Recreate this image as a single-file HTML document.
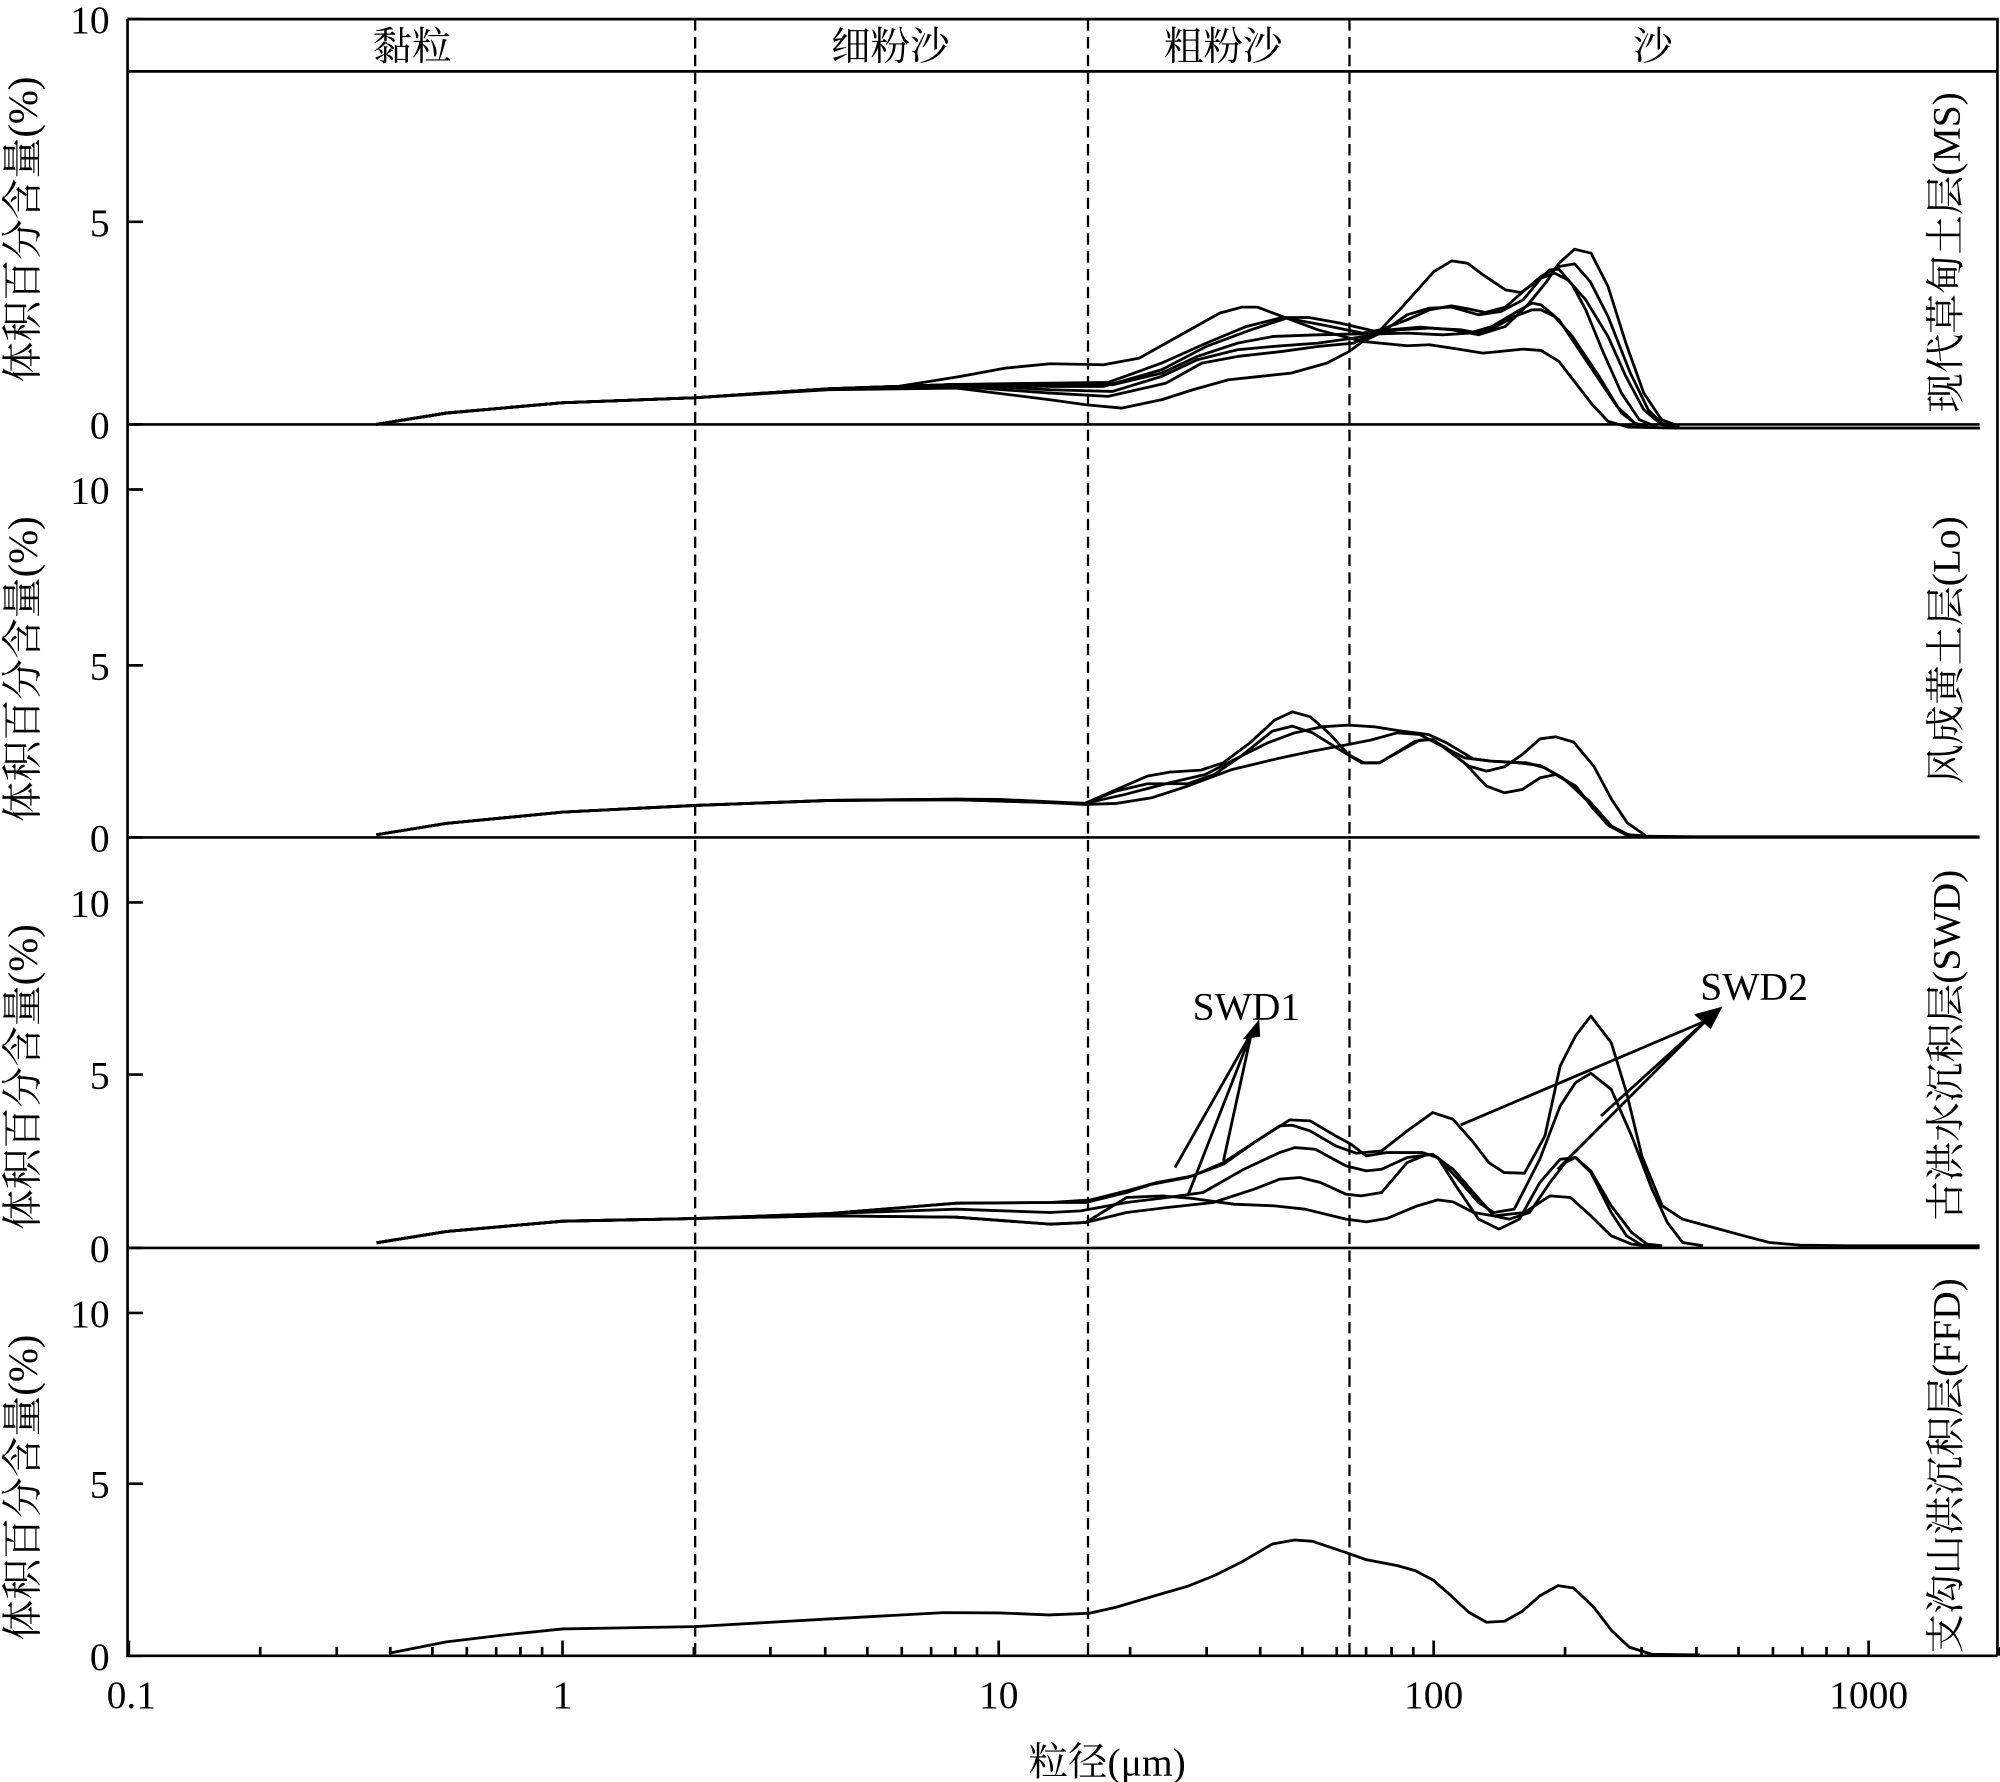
<!DOCTYPE html>
<html><head><meta charset="utf-8"><style>
html,body{margin:0;padding:0;background:#fff}
svg{display:block}
text{font-family:"Liberation Serif","Noto Serif CJK SC","Noto Sans CJK SC",serif;fill:#000}
.c{fill:none;stroke:#000;stroke-width:2.8;stroke-linejoin:round}
.ax{stroke:#000;stroke-width:2.1;fill:none}
.d{stroke:#000;stroke-width:1.8;stroke-dasharray:9 5;fill:none}
.t{font-size:31px}
.yt{font-size:32px}
</style></head><body>
<svg width="2000" height="1782" viewBox="0 0 1568 1398" preserveAspectRatio="none" xmlns="http://www.w3.org/2000/svg">
<rect width="1568" height="1398" fill="#fff"/>
<path class="ax" d="M100,15 H1566 V1299 M100,15 V1299 H1566 M100,56 H1566 M100,333 H1552 M100,657 H1552 M100,979 H1552"/>
<path class="ax" d="M100,15h12M100,174h12M100,333h12M100,384h12M100,522h12M100,657h12M100,708h12M100,843h12M100,979h12M100,1030h12M100,1164h12M100,1299h12"/>
<path class="ax" d="M101,1299v-12M441,1299v-12M783,1299v-12M1124,1299v-12M1465,1299v-12
M204,1299v-7M264,1299v-7M306,1299v-7M339,1299v-7M366,1299v-7M389,1299v-7M408,1299v-7M425,1299v-7
M544,1299v-7M604,1299v-7M647,1299v-7M680,1299v-7M707,1299v-7M730,1299v-7M749,1299v-7M766,1299v-7
M886,1299v-7M946,1299v-7M988,1299v-7M1021,1299v-7M1048,1299v-7M1071,1299v-7M1091,1299v-7M1108,1299v-7
M1227,1299v-7M1287,1299v-7M1330,1299v-7M1363,1299v-7M1390,1299v-7M1413,1299v-7M1432,1299v-7M1449,1299v-7
M1568,1299v-7"/>
<path class="d" d="M545,15V1299M853,15V1299M1058,15V1299"/>
<g class="t" text-anchor="middle">
<text x="323" y="47">黏粒</text><text x="698" y="47">细粉沙</text><text x="959" y="47">粗粉沙</text><text x="1296" y="47">沙</text>
</g>
<g class="t" text-anchor="end">
<text x="86" y="26">10</text><text x="86" y="185">5</text><text x="86" y="344">0</text>
<text x="86" y="395">10</text><text x="86" y="533">5</text><text x="86" y="668">0</text>
<text x="86" y="719">10</text><text x="86" y="854">5</text><text x="86" y="990">0</text>
<text x="86" y="1041">10</text><text x="86" y="1175">5</text><text x="86" y="1310">0</text>
</g>
<g class="t" text-anchor="middle">
<text x="103" y="1340">0.1</text><text x="441" y="1340">1</text><text x="783" y="1340">10</text><text x="1124" y="1340">100</text><text x="1465" y="1340">1000</text>
<text x="868" y="1393">粒径(μm)</text>
</g>
<g class="yt" text-anchor="middle" dominant-baseline="central">
<text transform="translate(18,180) rotate(-90)">体积百分含量(%)</text>
<text transform="translate(18,525) rotate(-90)">体积百分含量(%)</text>
<text transform="translate(18,845) rotate(-90)">体积百分含量(%)</text>
<text transform="translate(18,1167) rotate(-90)">体积百分含量(%)</text>
</g>
<g class="t" text-anchor="middle" dominant-baseline="central">
<text transform="translate(1526,198) rotate(-90)">现代草甸土层(MS)</text>
<text transform="translate(1526,510) rotate(-90)">风成黄土层(Lo)</text>
<text transform="translate(1526,820) rotate(-90)">古洪水沉积层(SWD)</text>
<text transform="translate(1526,1150) rotate(-90)">支沟山洪沉积层(FFD)</text>
</g>

<g transform="translate(823.2,172.5) scale(0.35,0.2613)">
<polyline vector-effect="non-scaling-stroke" class="c" points="-1509,614 -1352,580 -1092,549 -795,534 -495,507 -340,500 -200,470 -100,445 0,432 120,435 200,415 300,340 380,280 430,262 465,262 520,290 600,330 700,365 800,378 850,375 900,385 970,400 1060,388 1100,392 1140,425 1215,555 1250,605 1295,622 1400,625 2083,625"/>
<polyline vector-effect="non-scaling-stroke" class="c" points="-1509,614 -1352,580 -1092,549 -795,534 -495,507 -209,494 0,490 130,488 250,430 350,370 440,320 520,293 580,293 650,310 730,335 800,300 850,270 900,258 940,268 975,278 1020,262 1060,215 1100,170 1140,140 1175,132 1210,185 1250,290 1300,460 1340,570 1370,610 1400,622"/>
<polyline vector-effect="non-scaling-stroke" class="c" points="-1509,614 -1352,580 -1092,549 -795,534 -495,507 -209,494 0,500 120,500 250,450 350,380 450,330 530,295 620,318 700,340 740,330 790,260 830,200 860,155 900,123 935,130 970,165 1020,210 1055,218 1090,185 1120,150 1140,148 1170,195 1200,270 1240,400 1280,520 1320,600 1360,622"/>
<polyline vector-effect="non-scaling-stroke" class="c" points="-1509,614 -1352,580 -1092,549 -795,534 -495,507 -209,494 0,495 140,495 250,460 330,410 420,370 500,350 600,345 700,342 760,330 830,322 900,330 960,345 1020,320 1070,255 1110,190 1140,130 1175,88 1212,100 1250,200 1290,370 1330,520 1370,600 1410,620"/>
<polyline vector-effect="non-scaling-stroke" class="c" points="-1509,614 -1352,580 -1092,549 -795,534 -495,507 -209,494 0,510 140,515 250,470 330,420 420,390 500,380 600,370 680,355 740,342 800,340 880,345 940,340 990,320 1040,280 1080,250 1100,255 1140,300 1180,380 1230,480 1270,560 1310,610 1340,622"/>
<polyline vector-effect="non-scaling-stroke" class="c" points="-1509,614 -1352,580 -1092,549 -795,534 -495,507 -209,500 0,520 130,530 260,490 340,430 420,410 520,395 600,380 680,370 720,345 780,330 850,325 920,330 960,340 1000,320 1040,290 1080,270 1100,270 1130,290 1170,350 1230,470 1280,580 1320,620"/>
<polyline vector-effect="non-scaling-stroke" class="c" points="-1509,614 -1352,580 -1092,549 -795,534 -495,510 -209,505 0,540 80,555 160,565 250,540 320,510 400,480 470,470 540,460 620,430 670,395 700,365 740,340 800,285 850,265 900,262 960,285 1010,275 1060,240 1100,175 1130,160 1160,180 1200,240 1250,350 1290,470 1330,570 1370,615 1410,622"/>
</g>

<g transform="translate(784,533.1) scale(0.35,0.2613)">
<polyline vector-effect="non-scaling-stroke" class="c" points="-1397,466 -1240,432 -980,398 -683,378 -383,363 -97,359 0,360 190,372 270,325 330,290 380,278 450,272 500,250 560,190 615,122 655,97 695,112 740,165 780,225 815,250 850,250 900,210 930,185 965,180 1000,205 1040,250 1090,320 1130,340 1170,330 1210,295 1245,285 1290,320 1330,390 1365,440 1410,470 1568,472 2194,472"/>
<polyline vector-effect="non-scaling-stroke" class="c" points="-1397,466 -1240,432 -980,398 -683,378 -383,363 -97,361 0,365 190,372 260,335 330,313 420,313 480,285 540,230 610,155 655,140 700,160 760,210 810,250 850,250 900,212 940,182 970,180 1010,220 1050,260 1090,275 1130,262 1170,225 1210,178 1245,172 1285,188 1330,260 1370,360 1405,430 1445,468"/>
<polyline vector-effect="non-scaling-stroke" class="c" points="-1397,466 -1240,432 -980,398 -683,378 -383,363 -97,361 0,365 190,372 280,345 380,310 460,285 540,230 600,190 660,160 720,142 780,137 840,142 900,155 960,165 1000,190 1060,238 1100,245 1160,250 1210,258 1260,295 1320,365 1370,440 1410,468"/>
<polyline vector-effect="non-scaling-stroke" class="c" points="-1397,466 -1240,432 -980,398 -683,378 -383,363 -97,359 0,362 190,375 260,372 340,355 420,320 520,270 620,238 700,215 780,195 830,182 890,160 940,165 990,200 1040,235 1100,245 1180,250 1220,265 1270,305 1320,370 1360,435 1400,465 1445,470"/>
</g>

<g transform="translate(823.2,744.8) scale(0.4,0.2613)">
<polyline vector-effect="non-scaling-stroke" class="c" points="-1320,881 -1183,847 -955,816 -695,808 -433,793 -183,762 0,760 70,760 150,730 200,705 270,685 340,645 400,580 450,530 475,528 510,545 560,590 600,612 650,605 700,545 750,490 790,510 830,580 860,640 890,670 930,672 970,560 1000,350 1030,260 1060,200 1100,280 1130,430 1160,620 1200,770 1240,810 1300,835 1360,860 1410,880 1470,888 1568,890 1822,890"/>
<polyline vector-effect="non-scaling-stroke" class="c" points="-1320,881 -1183,847 -955,816 -695,808 -433,793 -183,762 0,760 80,752 150,725 210,700 280,680 340,640 420,560 470,512 510,515 560,560 590,585 620,620 660,610 730,610 760,625 800,690 840,760 870,790 910,780 960,630 1000,470 1030,400 1060,372 1100,420 1140,560 1180,720 1210,820 1240,880 1280,890"/>
<polyline vector-effect="non-scaling-stroke" class="c" points="-1320,881 -1183,847 -955,816 -695,808 -433,793 -183,780 0,790 60,785 150,760 230,745 300,730 380,660 450,610 480,595 520,600 580,650 620,665 650,660 700,625 750,615 790,660 830,730 870,800 900,810 940,790 980,700 1010,640 1030,625 1060,665 1100,770 1140,850 1170,885 1200,890"/>
<polyline vector-effect="non-scaling-stroke" class="c" points="-1320,881 -1183,847 -955,816 -695,808 -433,800 -183,804 0,825 70,820 150,790 230,775 320,760 400,720 450,690 490,685 530,700 580,735 610,740 650,730 700,640 740,615 760,625 800,720 840,810 880,840 920,810 960,700 1000,630 1030,625 1060,670 1100,790 1130,860 1160,888 1190,890"/>
<polyline vector-effect="non-scaling-stroke" class="c" points="-1320,881 -1183,847 -955,816 -695,808 -433,800 -183,804 0,825 70,820 150,745 220,740 280,748 360,765 440,770 500,780 580,810 620,818 660,808 720,770 760,752 790,758 830,790 870,800 930,790 980,740 1020,745 1060,800 1100,860 1140,885 1170,890"/>
<polyline vector-effect="non-scaling-stroke" class="c" points="245,655 395,250"/>
<polyline vector-effect="non-scaling-stroke" class="c" points="340,635 395,250"/>
<polyline vector-effect="non-scaling-stroke" class="c" points="270,740 395,250"/>
<polygon points="410,210 378,270 412,262" fill="#000"/>
<polyline vector-effect="non-scaling-stroke" class="c" points="805,527 1285,215"/>
<polyline vector-effect="non-scaling-stroke" class="c" points="1080,500 1285,215"/>
<polyline vector-effect="non-scaling-stroke" class="c" points="995,660 1285,215"/>
<polygon points="1318,172 1262,195 1295,240" fill="#000"/>
</g>
<text class="t" x="935" y="800">SWD1</text>
<text class="t" x="1333" y="784">SWD2</text>

<g transform="translate(784,1176) scale(0.35,0.2613)">
<polyline vector-effect="non-scaling-stroke" class="c" points="-1369,463 -1240,429 -1097,406 -980,390 -683,383 -383,360 -126,341 0,342 110,348 200,343 260,325 340,293 420,262 480,230 540,190 610,135 660,123 700,127 780,163 820,182 890,200 930,215 970,243 1010,290 1050,340 1090,370 1130,367 1170,337 1210,290 1250,260 1285,267 1330,325 1370,395 1410,445 1460,466 1568,468"/>
</g>
</svg>
</body></html>
